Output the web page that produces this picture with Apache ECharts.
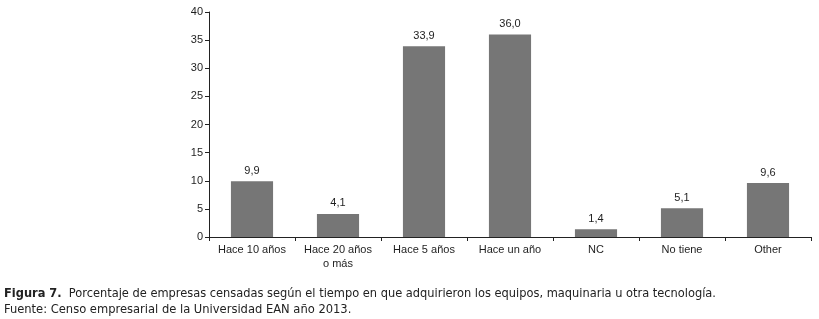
<!DOCTYPE html>
<html>
<head>
<meta charset="utf-8">
<script src="https://cdn.jsdelivr.net/npm/echarts@6/dist/echarts.min.js"></script>
<style>
  html, body { margin: 0; padding: 0; background: #fff; }
  #chart { width: 819px; height: 319px; }
</style>
</head>
<body>
<div id="chart"></div>
<script>
const categories = ["Hace 10 años", "Hace 20 años\no más", "Hace 5 años", "Hace un año", "NC", "No tiene", "Other"];
const values = [9.9, 4.1, 33.9, 36.0, 1.4, 5.1, 9.6];
const yTicks = [0, 5, 10, 15, 20, 25, 30, 35, 40];

const chart = echarts.init(document.getElementById("chart"));
const capFont = "'DejaVu Sans Condensed', 'Liberation Sans'";

chart.setOption({
  animation: false,
  grid: { left: 209, right: 8, top: 12, bottom: 82 },
  xAxis: {
    type: "category",
    data: categories,
    axisLine: { lineStyle: { color: "#222", width: 1 } },
    axisTick: { show: true, length: 4, lineStyle: { color: "#222" } },
    axisLabel: {
      color: "#1e1e1e",
      fontSize: 11,
      fontFamily: "Liberation Sans",
      margin: 6,
      lineHeight: 14,
      interval: 0
    }
  },
  yAxis: {
    type: "value",
    min: yTicks[0],
    max: yTicks[yTicks.length - 1],
    interval: 5,
    splitLine: { show: false },
    axisLine: { show: true, lineStyle: { color: "#222", width: 1 } },
    axisTick: { show: true, length: 4, lineStyle: { color: "#222" } },
    axisLabel: { color: "#1e1e1e", fontSize: 11, fontFamily: "Liberation Sans", margin: 6 }
  },
  series: [{
    type: "bar",
    data: values,
    barWidth: "49%",
    itemStyle: { color: "#767676" },
    label: {
      show: true,
      position: "top",
      distance: 5,
      color: "#1e1e1e",
      fontSize: 11,
      fontFamily: "Liberation Sans",
      formatter: (p) => p.value.toFixed(1).replace(".", ",")
    }
  }],
  graphic: [
    {
      type: "text",
      left: 4,
      top: 287,
      style: {
        rich: {
          b: { fontWeight: "bold", fontSize: 12.7, fontFamily: capFont, fill: "#222" },
          n: { fontSize: 12.7, fontFamily: capFont, fill: "#222" }
        },
        text: "{b|Figura 7.}{n|  Porcentaje de empresas censadas según el tiempo en que adquirieron los equipos, maquinaria u otra tecnología.}"
      }
    },
    {
      type: "text",
      left: 4,
      top: 303,
      style: {
        text: "Fuente: Censo empresarial de la Universidad EAN año 2013.",
        fontSize: 12.8,
        fontFamily: capFont,
        fill: "#222"
      }
    }
  ]
});
</script>
</body>
</html>
